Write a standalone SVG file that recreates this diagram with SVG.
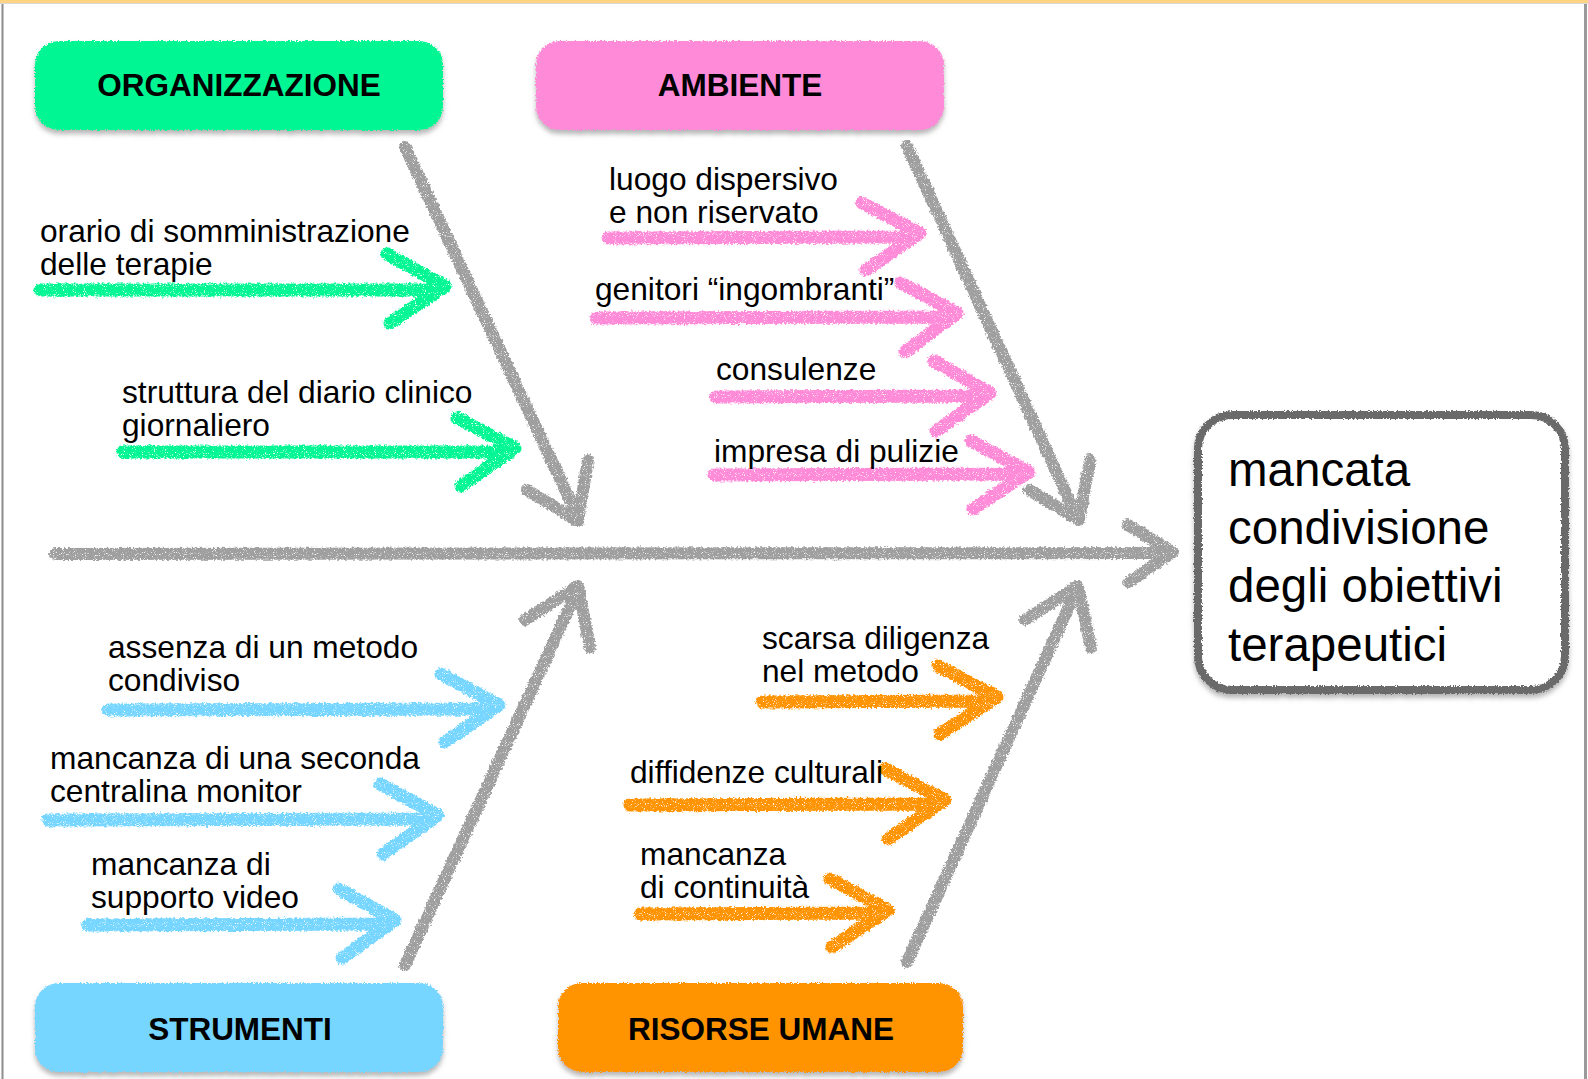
<svg xmlns="http://www.w3.org/2000/svg" width="1588" height="1079" viewBox="0 0 1588 1079">
<defs>
<style>
.lbl{font-family:"Liberation Sans",Arial,Helvetica,sans-serif;font-size:31.7px;fill:#000}
.cat{font-family:"Liberation Sans",Arial,Helvetica,sans-serif;font-size:31.5px;font-weight:bold;fill:#000;text-anchor:middle}
.eff{font-family:"Liberation Sans",Arial,Helvetica,sans-serif;font-size:47.5px;fill:#000}
.bone{fill:none;stroke:#9f9f9f;stroke-width:12;stroke-linecap:round;stroke-linejoin:round}
.ch{fill:none;stroke-width:13;stroke-linecap:round;stroke-linejoin:round}
.g{stroke:#00f593}.p{stroke:#ff8ad8}.b{stroke:#76d6ff}.o{stroke:#ff9300}
</style>
<filter id="chalk" filterUnits="userSpaceOnUse" x="0" y="0" width="1588" height="1079">
<feTurbulence type="fractalNoise" baseFrequency="0.45" numOctaves="2" seed="3" result="n"/>
<feDisplacementMap in="SourceGraphic" in2="n" scale="5" xChannelSelector="R" yChannelSelector="G" result="d"/>
<feTurbulence type="fractalNoise" baseFrequency="1.1" numOctaves="1" seed="7" result="s"/>
<feColorMatrix in="s" type="matrix" values="0 0 0 0 0  0 0 0 0 0  0 0 0 0 0  0 0 0 -6 4.6" result="m"/>
<feComposite in="d" in2="m" operator="in"/>
</filter>
<filter id="box" filterUnits="userSpaceOnUse" x="0" y="0" width="1588" height="1079">
<feTurbulence type="fractalNoise" baseFrequency="0.6" numOctaves="2" seed="5" result="n"/>
<feDisplacementMap in="SourceGraphic" in2="n" scale="4" xChannelSelector="R" yChannelSelector="G" result="d"/>
<feGaussianBlur in="d" stdDeviation="2.5" result="bl"/>
<feOffset in="bl" dx="0" dy="4" result="of"/>
<feColorMatrix in="of" type="matrix" values="0 0 0 0 0.2  0 0 0 0 0.2  0 0 0 0 0.2  0 0 0 0.55 0" result="sh"/>
<feMerge><feMergeNode in="sh"/><feMergeNode in="d"/></feMerge>
</filter>
</defs>

<rect x="0" y="0" width="1588" height="1079" fill="#fff"/>
<rect x="0" y="0" width="1588" height="3" fill="#fdd384"/>
<line x1="0" y1="3.5" x2="1588" y2="3.5" stroke="#d9d9d9" stroke-width="1"/>
<line x1="2.5" y1="4" x2="2.5" y2="1079" stroke="#8c8c8c" stroke-width="2"/>
<line x1="1585.5" y1="4" x2="1585.5" y2="1079" stroke="#9a9a9a" stroke-width="3"/>

<g id="connectors">
  <g filter="url(#chalk)">
    <path class="bone" d="M55,554 L1168,553"/>
    <path class="bone" d="M1128,525 L1173,552 L1129,582"/>
    <path class="bone" d="M405,147 L578,517"/>
    <path class="bone" d="M527,490 L578,521 L588,460"/>
    <path class="bone" d="M907,146 L1077,517"/>
    <path class="bone" d="M1029,490 L1079,520 L1090,460"/>
    <path class="bone" d="M405,965 L577,591"/>
    <path class="bone" d="M525,620 L578,586 L590,648"/>
    <path class="bone" d="M907,962 L1076,591"/>
    <path class="bone" d="M1025,620 L1078,586 L1091,648"/>
  </g>
  <g filter="url(#chalk)">
    <path class="ch g" d="M40,290 L436,290 M387,254 L445,286 L390,323"/>
    <path class="ch g" d="M123,452 L508,452 M457,418 L515,448 L461,486"/>
    <path class="ch p" d="M608,238 L913,237 M862,203 L920,233 L866,270"/>
    <path class="ch p" d="M596,318 L950,317 M901,283 L957,313 L905,352"/>
    <path class="ch p" d="M716,397 L982,396 M934,361 L990,393 L936,431"/>
    <path class="ch p" d="M714,475 L1021,474 M971,441 L1029,472 L973,509"/>
    <path class="ch b" d="M108,710 L492,709 M441,674 L499,705 L445,742"/>
    <path class="ch b" d="M48,820 L431,819 M380,784 L438,815 L383,854"/>
    <path class="ch b" d="M88,925 L388,924 M339,889 L395,920 L342,958"/>
    <path class="ch o" d="M762,702 L990,701 M938,666 L997,697 L940,734"/>
    <path class="ch o" d="M630,805 L938,804 M885,769 L945,800 L888,839"/>
    <path class="ch o" d="M640,914 L881,913 M830,879 L888,910 L832,947"/>
  </g>
</g>

<g id="organizzazione">
  <rect x="35" y="41" width="408" height="89" rx="24" fill="#00f593" filter="url(#box)"/>
  <text class="cat" x="239" y="96">ORGANIZZAZIONE</text>
</g>
<g id="ambiente">
  <rect x="536" y="41" width="408" height="89" rx="24" fill="#ff8ad8" filter="url(#box)"/>
  <text class="cat" x="740" y="96">AMBIENTE</text>
</g>
<g id="strumenti">
  <rect x="35" y="983" width="408" height="89" rx="24" fill="#76d6ff" filter="url(#box)"/>
  <text class="cat" x="240" y="1040">STRUMENTI</text>
</g>
<g id="risorse-umane">
  <rect x="558" y="983" width="405" height="89" rx="24" fill="#ff9300" filter="url(#box)"/>
  <text class="cat" x="761" y="1040">RISORSE UMANE</text>
</g>

<g id="effetto">
  <rect x="1198" y="415" width="367" height="275" rx="34" fill="#fff" stroke="#6b6b6b" stroke-width="8" filter="url(#box)"/>
  <text class="eff" x="1228" y="486">mancata<tspan x="1228" y="544">condivisione</tspan><tspan x="1228" y="602">degli obiettivi</tspan><tspan x="1228" y="661">terapeutici</tspan></text>
</g>

<g id="causa-orario"><text class="lbl" x="40" y="242">orario di somministrazione<tspan x="40" y="275">delle terapie</tspan></text></g>
<g id="causa-diario"><text class="lbl" x="122" y="403">struttura del diario clinico<tspan x="122" y="436">giornaliero</tspan></text></g>
<g id="causa-luogo"><text class="lbl" x="609" y="190">luogo dispersivo<tspan x="609" y="223">e non riservato</tspan></text></g>
<g id="causa-genitori"><text class="lbl" x="595" y="300">genitori “ingombranti”</text></g>
<g id="causa-consulenze"><text class="lbl" x="716" y="380">consulenze</text></g>
<g id="causa-pulizie"><text class="lbl" x="714" y="462">impresa di pulizie</text></g>
<g id="causa-metodo"><text class="lbl" x="108" y="658">assenza di un metodo<tspan x="108" y="691">condiviso</tspan></text></g>
<g id="causa-centralina"><text class="lbl" x="50" y="769">mancanza di una seconda<tspan x="50" y="802">centralina monitor</tspan></text></g>
<g id="causa-video"><text class="lbl" x="91" y="875">mancanza di<tspan x="91" y="908">supporto video</tspan></text></g>
<g id="causa-diligenza"><text class="lbl" x="762" y="649">scarsa diligenza<tspan x="762" y="682">nel metodo</tspan></text></g>
<g id="causa-diffidenze"><text class="lbl" x="630" y="783">diffidenze culturali</text></g>
<g id="causa-continuita"><text class="lbl" x="640" y="865">mancanza<tspan x="640" y="898">di continuità</tspan></text></g>
</svg>
